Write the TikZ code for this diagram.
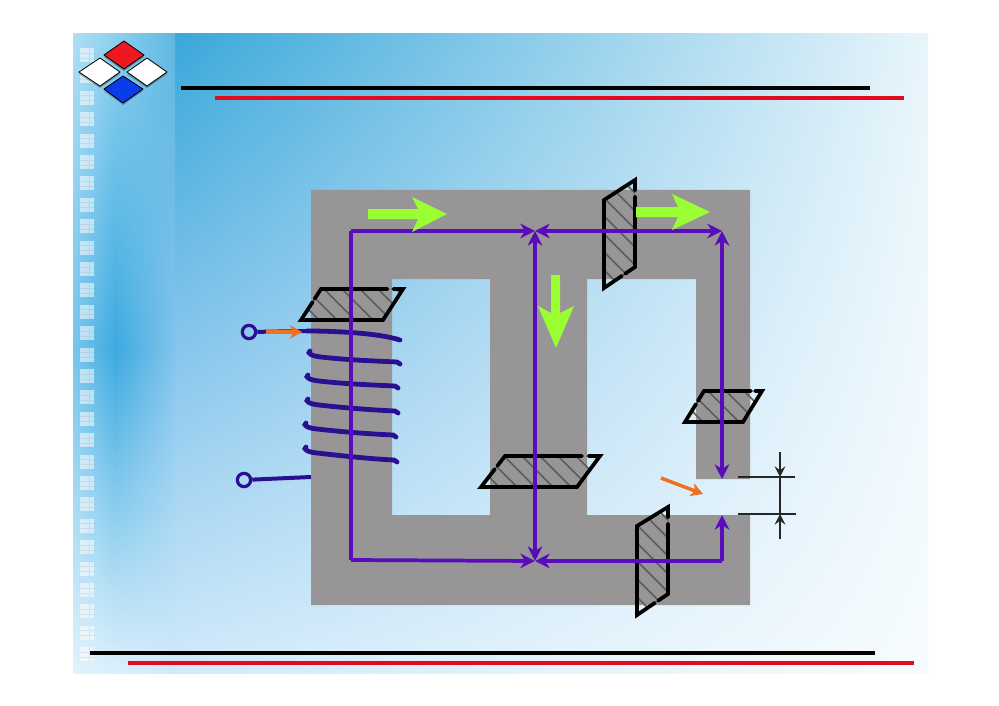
\documentclass[tikz,border=0pt]{standalone}
\usepackage{tikz}
\usetikzlibrary{arrows.meta,shadings,calc}

\definecolor{corecol}{RGB}{152,149,150}
\definecolor{fluxcol}{RGB}{88,12,186}
\definecolor{coilcol}{RGB}{42,16,144}
\definecolor{greencol}{RGB}{153,255,51}
\definecolor{orangecol}{RGB}{240,112,32}
\definecolor{hatchcol}{RGB}{92,92,92}
\definecolor{redcol}{RGB}{226,10,30}
\definecolor{logored}{RGB}{238,24,34}
\definecolor{bluecol}{RGB}{10,60,236}
\definecolor{bgA}{RGB}{58,168,218}
\definecolor{bgB}{RGB}{232,245,251}
\definecolor{bgC}{RGB}{135,198,236}
\definecolor{bgD}{RGB}{240,249,253}
\definecolor{bgE}{RGB}{210,234,250}
\definecolor{bgF}{RGB}{247,252,254}
\definecolor{stripA}{RGB}{175,222,245}
\definecolor{stripB}{RGB}{140,208,238}
\definecolor{stripC}{RGB}{95,183,226}
\definecolor{stripD}{RGB}{120,198,236}
\definecolor{stripE}{RGB}{60,170,224}
\definecolor{stripF}{RGB}{130,196,236}
\definecolor{stripG}{RGB}{225,243,252}
\definecolor{stripH}{RGB}{220,240,252}
\definecolor{stripI}{RGB}{209,234,250}

\tikzset{
	bgpatch/.style={shading=bilinear interpolation},
	fluxplain/.style={line width=2.8pt,fluxcol},
	fluxline/.style={fluxplain,-{Stealth[length=11pt,width=11pt,inset=3.5pt]}},
	coilwire/.style={line width=3.6pt,coilcol,line cap=round},
	terminal/.style={line width=3pt,coilcol},
	termring/.style={circle,draw=coilcol,line width=2.4pt,minimum size=10pt,inner sep=0pt},
	section/.style={line width=2.8pt,black,line cap=round},
	hatchline/.style={line width=1.2pt,hatchcol},
	greenarrow/.style={fill=greencol},
	currentarrow/.style={line width=2.6pt,orangecol,-{Stealth[length=9pt,width=10pt,inset=2.5pt]}},
	gapline/.style={line width=1.2pt,black!85},
	gaparrow/.style={line width=1.6pt,black!85,-{Stealth[length=8pt,width=8pt,inset=3pt]}},
	logotile/.style={draw=black,line width=0.6pt},
	logoshadow/.style={fill=black,opacity=0.3},
}

% corners given so that the outline gaps fall on the edges #3-#4 and #4-#1
\newcommand{\crosssec}[4]{%
	\begin{scope}
		\clip #1 -- #2 -- #3 -- #4 -- cycle;
		\foreach \h in {-300,-282,...,300}
		\draw[hatchline] ($#1+(\h,-120)$) -- ($#1+(\h+150,30)$);
	\end{scope}
	\draw[section] ($#4!0.42!#1$) -- #1 -- #2 -- #3 -- ($#3!0.12!#4$);
	\draw[section] ($#3!0.19!#4$) -- #4 -- ($#4!0.32!#1$);
}

\begin{document}
\begin{tikzpicture}[x=0.75pt,y=-0.75pt]
	\useasboundingbox (0,0) rectangle (999,706);
	\fill[white] (0,0) rectangle (999,706);

	% background
	\shade[bgpatch,upper left=bgA,upper right=bgB,lower left=bgC,lower right=bgD] (175,34) rectangle (928,350);
	\shade[bgpatch,upper left=bgC,upper right=bgD,lower left=bgE,lower right=bgF] (175,350) rectangle (928,673);
	\shade[bgpatch,upper left=stripA,upper right=stripB,lower left=stripD,lower right=stripE] (73,34) rectangle (115,350);
	\shade[bgpatch,upper left=stripB,upper right=stripC,lower left=stripE,lower right=stripF] (115,34) rectangle (175,350);
	\shade[bgpatch,upper left=stripD,upper right=stripE,lower left=stripG,lower right=stripH] (73,350) rectangle (115,673);
	\shade[bgpatch,upper left=stripE,upper right=stripF,lower left=stripH,lower right=stripI] (115,350) rectangle (175,673);

	% small squares on the strip
	\foreach \n in {0,...,28}{
		\fill[white,opacity=0.55] (80,48+\n*21.4) rectangle (94,62+\n*21.4);
		\draw[gray,opacity=0.15,line width=0.5pt] (89,48+\n*21.4) -- (89,62+\n*21.4)
			(80,53+\n*21.4) -- (94,53+\n*21.4) (80,58+\n*21.4) -- (94,58+\n*21.4);
	}

	% logo
	\fill[logoshadow] (104,57) -- (124,43) -- (144,57) -- (124,71) -- cycle;
	\fill[logoshadow] (79,74) -- (100,60) -- (120,74) -- (100,88) -- cycle;
	\fill[logoshadow] (127,74) -- (147,60) -- (167,74) -- (147,88) -- cycle;
	\fill[logoshadow] (104,91) -- (123,78) -- (143,91) -- (123,105) -- cycle;
	\fill[logotile,fill=logored] (104,55) -- (124,41) -- (144,55) -- (124,69) -- cycle;
	\fill[logotile,fill=white] (79,72) -- (100,58) -- (120,72) -- (100,86) -- cycle;
	\fill[logotile,fill=white] (127,72) -- (147,58) -- (167,72) -- (147,86) -- cycle;
	\fill[logotile,fill=bluecol] (104,89) -- (123,76) -- (143,89) -- (123,103) -- cycle;

	% title and footer rules
	\draw[line width=3.6pt,black] (181,88) -- (870,88);
	\draw[line width=3.2pt,redcol] (215,98) -- (904,98);
	\draw[line width=3.6pt,black] (90,653) -- (875,653);
	\draw[line width=3.2pt,redcol] (128,663) -- (914,663);

	% core
	\fill[corecol,even odd rule] (311,190) -- (750,190) -- (750,479) -- (696,479) -- (696,279) -- (587,279) -- (587,515) -- (750,515) -- (750,605) -- (311,605) -- cycle
		(392,279) rectangle (490,515);

	% sections
	\crosssec{(301,320)}{(383,320)}{(403,289)}{(321,289)}
	\crosssec{(481,487)}{(577,487)}{(600,456)}{(505,456)}
	\crosssec{(685,422)}{(743,422)}{(762,391)}{(704,391)}
	\crosssec{(604,288)}{(604,200)}{(635,180)}{(635,267)}
	\crosssec{(637,615)}{(637,526)}{(668,507)}{(668,594)}

	% coil
	\node[termring] (terma) at (249,332) {};
	\node[termring] (termb) at (244,480) {};
	\coordinate (coilin) at (307,331);
	\coordinate (coilout) at (311,477);
	\draw[terminal] (terma) -- (coilin);
	\draw[terminal] (termb) -- (coilout);
	\draw[coilwire] (coilin) .. controls (335,331) and (378,333) .. (400,340);
	\foreach \xa/\ya/\xb/\yb in {307/353/400/364,305/377/398/388,305/401/398/413,303/425/396/437,303/449/397/462}
	\draw[coilwire] (\xa+3,\ya-2) .. controls (\xa,\ya) and (\xa+4,\ya+3) .. (\xa+14,\ya+4)
		.. controls (\xa+40,\ya+7) and (\xb-25,\yb-3) .. (\xb-3,\yb-2) -- (\xb,\yb);

	% flux paths
	\coordinate (lefttop) at (351,231);
	\coordinate (leftbot) at (351,560);
	\coordinate (midtop) at (535,231);
	\coordinate (midbot) at (535,561);
	\coordinate (midcen) at (535,400);
	\coordinate (uppcen) at (630,231);
	\coordinate (lowcen) at (630,561);
	\coordinate (righttop) at (722,231);
	\coordinate (rightmid) at (722,350);
	\coordinate (rightbot) at (722,561);
	\coordinate (gaptop) at (722,479);
	\coordinate (gapbot) at (722,515);

	\draw[fluxplain] (leftbot) -- (lefttop);
	\draw[fluxline] (lefttop) -- (midtop);
	\draw[fluxline] (leftbot) -- (midbot);
	\draw[fluxline] (midcen) -- (midtop);
	\draw[fluxline] (midcen) -- (midbot);
	\draw[fluxline] (uppcen) -- (midtop);
	\draw[fluxline] (uppcen) -- (righttop);
	\draw[fluxline] (rightmid) -- (righttop);
	\draw[fluxline] (rightmid) -- (gaptop);
	\draw[fluxline] (lowcen) -- (midbot);
	\draw[fluxplain] (lowcen) -- (rightbot);
	\draw[fluxline] (rightbot) -- (gapbot);

	% green direction arrows
	\fill[greenarrow] (368,209) -- (418,209) -- (412,197) -- (447,214) -- (412,232) -- (418,219) -- (368,219) -- cycle;
	\fill[greenarrow] (636,207) -- (678,207) -- (672,194) -- (710,212) -- (672,230) -- (678,217) -- (636,217) -- cycle;
	\fill[greenarrow] (551,275) -- (560,275) -- (560,313) -- (574,306) -- (556,348) -- (538,306) -- (551,313) -- cycle;

	% current and gap marks
	\coordinate (curra) at (266,332);
	\coordinate (currb) at (302,332);
	\coordinate (currc) at (661,478);
	\coordinate (currd) at (703,494);
	\draw[currentarrow] (curra) -- (currb);
	\draw[currentarrow] (currc) -- (currd);

	\coordinate (gapa) at (738,477);
	\coordinate (gapb) at (795,477);
	\coordinate (gapc) at (738,514);
	\coordinate (gapd) at (796,514);
	\coordinate (gape) at (780,477);
	\coordinate (gapf) at (780,514);
	\draw[gapline] (gapa) -- (gapb);
	\draw[gapline] (gapc) -- (gapd);
	\draw[gapline] (gape) -- (gapf);
	\draw[gaparrow] (780,452) -- (gape);
	\draw[gaparrow] (780,539) -- (gapf);
\end{tikzpicture}
\end{document}
